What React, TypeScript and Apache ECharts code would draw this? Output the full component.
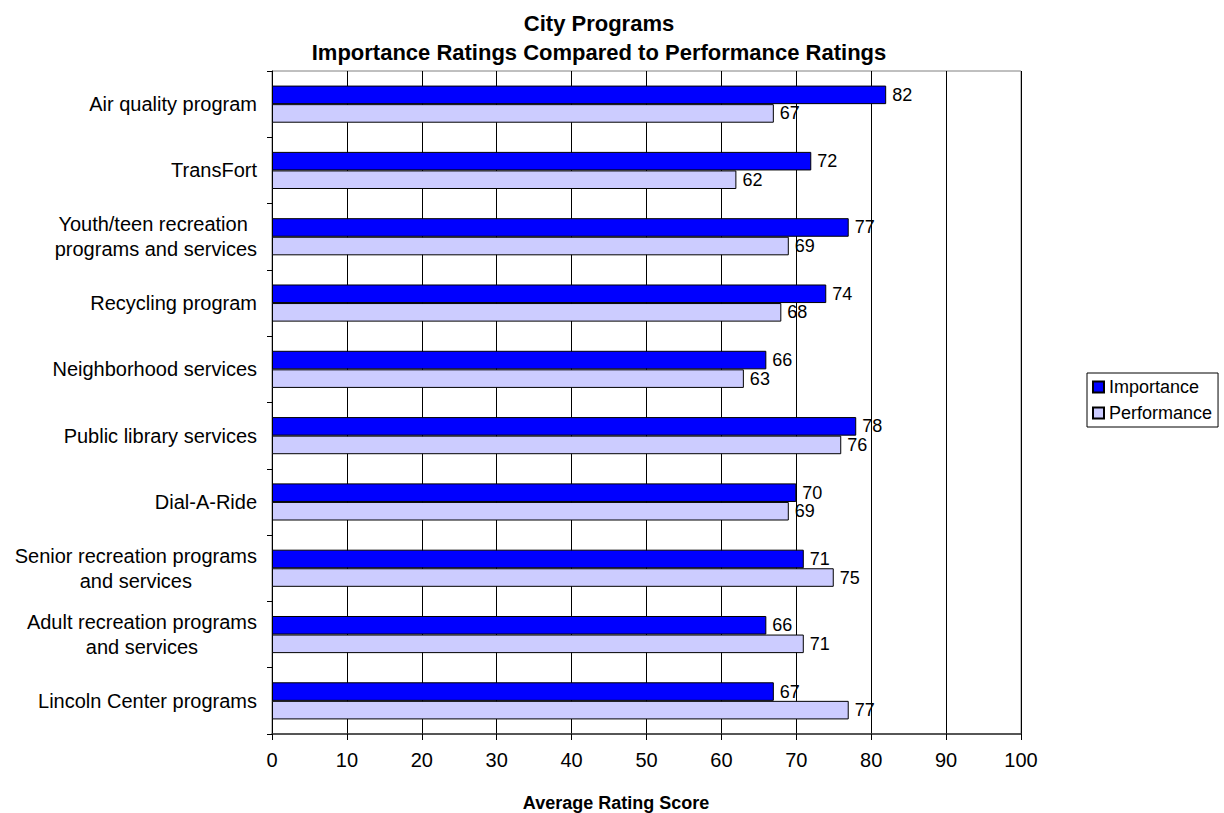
import React, { useEffect, useRef } from "react";
import * as echarts from "echarts";

const FONT = '"Liberation Sans", Arial, sans-serif';

const categories = [
  "Air quality program",
  "TransFort",
  "Youth/teen recreation \nprograms and services",
  "Recycling program",
  "Neighborhood services",
  "Public library services",
  "Dial-A-Ride",
  "Senior recreation programs\nand services",
  "Adult recreation programs\nand services",
  "Lincoln Center programs",
];
const importance = [82, 72, 77, 74, 66, 78, 70, 71, 66, 67];
const performance = [67, 62, 69, 68, 63, 76, 69, 75, 71, 77];
const seriesNames = ["Importance", "Performance"];
const titleLines = ["City Programs", "Importance Ratings Compared to Performance Ratings"];
const xAxisTitle = "Average Rating Score";

export default function App() {
  const ref = useRef<HTMLDivElement>(null);
  useEffect(() => {
    if (!ref.current) return;
    const chart = echarts.init(ref.current, undefined, { renderer: "svg" });
    const labelStyle = {
      show: true,
      position: "right",
      distance: 6,
      fontSize: 18,
      color: "#000",
      fontFamily: FONT,
    };
    chart.setOption({
      animation: false,
      backgroundColor: "#fff",
      textStyle: { fontFamily: FONT },
      grid: {
        left: 272,
        right: 203,
        top: 71,
        bottom: 79,
        show: true,
        borderColor: "#808080",
        borderWidth: 1,
        backgroundColor: "transparent",
      },
      graphic: [
        {
          type: "text",
          x: 599,
          y: 23,
          style: {
            text: titleLines[0],
            fontSize: 22,
            fontWeight: "bold",
            fontFamily: FONT,
            fill: "#000",
            textAlign: "center",
            textVerticalAlign: "middle",
          },
        },
        {
          type: "text",
          x: 599,
          y: 52,
          style: {
            text: titleLines[1],
            fontSize: 22,
            fontWeight: "bold",
            fontFamily: FONT,
            fill: "#000",
            textAlign: "center",
            textVerticalAlign: "middle",
          },
        },
        {
          type: "text",
          x: 616,
          y: 803,
          style: {
            text: xAxisTitle,
            fontSize: 18,
            fontWeight: "bold",
            fontFamily: FONT,
            fill: "#000",
            textAlign: "center",
            textVerticalAlign: "middle",
          },
        },
      ],
      legend: {
        data: seriesNames,
        orient: "vertical",
        left: 1087,
        top: 373,
        padding: [5, 6, 5, 5],
        borderColor: "#000",
        borderWidth: 1,
        itemWidth: 11,
        itemHeight: 11,
        itemGap: 8,
        icon: "rect",
        textStyle: { fontSize: 18, color: "#000", fontFamily: FONT },
      },
      xAxis: {
        type: "value",
        min: 0,
        max: 100,
        interval: 10,
        axisLine: { show: true, lineStyle: { color: "#333", width: 1.5 } },
        axisTick: { show: true, length: 6, lineStyle: { color: "#000" } },
        axisLabel: { fontSize: 20, color: "#000", fontFamily: FONT, margin: 16 },
        splitLine: { show: true, lineStyle: { color: "#000", width: 1 } },
      },
      yAxis: {
        type: "category",
        data: categories,
        inverse: true,
        axisLine: { show: true, lineStyle: { color: "#000", width: 1 } },
        axisTick: { show: true, length: 5, lineStyle: { color: "#000" } },
        axisLabel: {
          margin: 15,
          fontSize: 20,
          color: "#000",
          fontFamily: FONT,
          formatter: (v: string) =>
            v
              .split("\n")
              .map((l) => `{c|${l}}`)
              .join("\n"),
          rich: {
            c: {
              align: "center",
              fontSize: 20,
              lineHeight: 25,
              color: "#000",
              fontFamily: FONT,
            },
          },
        },
        splitLine: { show: false },
      },
      series: [
        {
          name: seriesNames[0],
          type: "bar",
          data: importance,
          barGap: "0%",
          barCategoryGap: "44%",
          itemStyle: { color: "#0000FF", borderColor: "#000", borderWidth: 1 },
          label: labelStyle,
        },
        {
          name: seriesNames[1],
          type: "bar",
          data: performance,
          barGap: "0%",
          barCategoryGap: "44%",
          itemStyle: { color: "#CCCCFF", borderColor: "#000", borderWidth: 1 },
          label: labelStyle,
        },
      ],
    });
    return () => chart.dispose();
  }, []);
  return (
    <div
      ref={ref}
      style={{ position: "absolute", left: 0, top: 0, width: 1224, height: 813 }}
    />
  );
}
